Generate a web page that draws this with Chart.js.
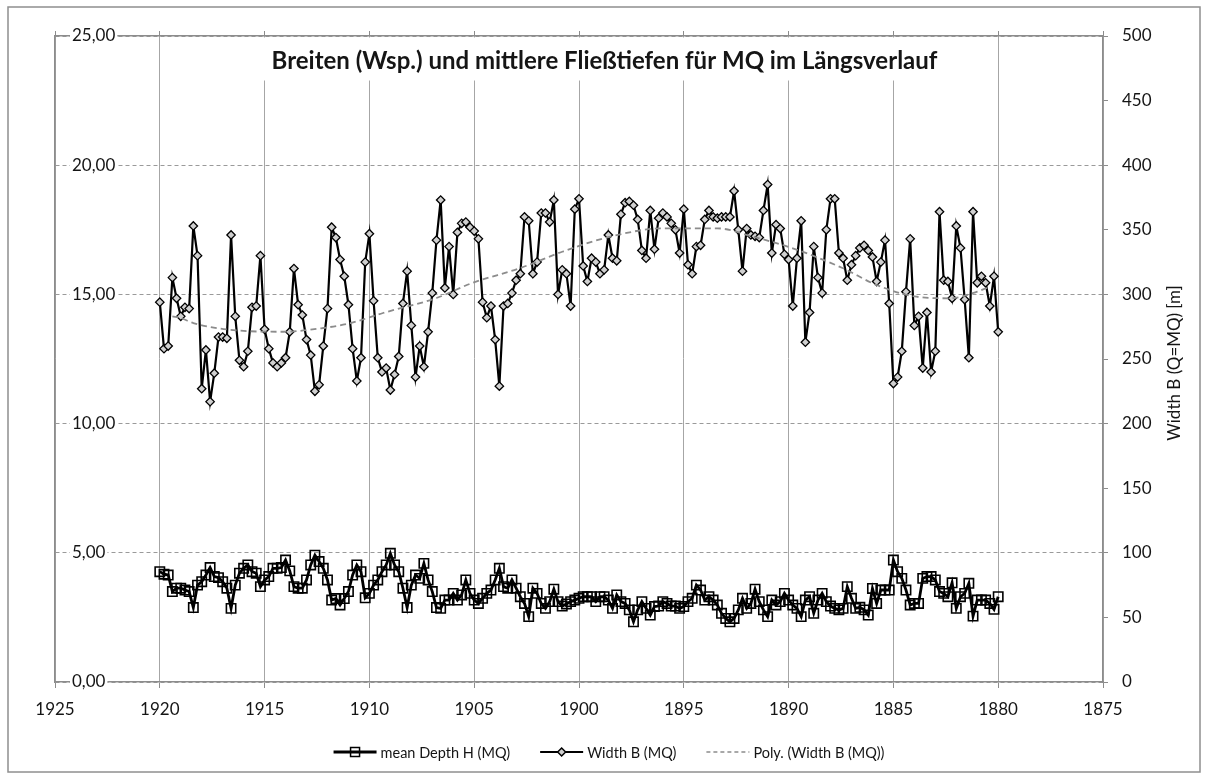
<!DOCTYPE html>
<html>
<head>
<meta charset="utf-8">
<script src="https://cdn.jsdelivr.net/npm/chart.js@4.4.1/dist/chart.umd.min.js"></script>
<style>
  html, body { margin: 0; padding: 0; background: #fff; }
  canvas { display: block; }
</style>
</head>
<body>
<canvas id="c" width="1205" height="775"></canvas>
<script>
// ---------- DATA ----------
const chartTitle = "Breiten (Wsp.) und mittlere Fließtiefen für MQ im Längsverlauf";
const rightAxisTitle = "Width B (Q=MQ) [m]";
const depthLabel = "mean Depth H (MQ)";
const widthLabel = "Width B (MQ)";
const trendLabel = "Poly. (Width B (MQ))";

const xTicks = [1925, 1920, 1915, 1910, 1905, 1900, 1895, 1890, 1885, 1880, 1875];
const leftTicks = [0, 5, 10, 15, 20, 25];
const rightTicks = [0, 50, 100, 150, 200, 250, 300, 350, 400, 450, 500];

const stations = [
  1920,1919.8,1919.6,1919.4,1919.2,1919,1918.8,1918.6,1918.4,1918.2,
  1918,1917.8,1917.6,1917.4,1917.2,1917,1916.8,1916.6,1916.4,1916.2,
  1916,1915.8,1915.6,1915.4,1915.2,1915,1914.8,1914.6,1914.4,1914.2,
  1914,1913.8,1913.6,1913.4,1913.2,1913,1912.8,1912.6,1912.4,1912.2,
  1912,1911.8,1911.6,1911.4,1911.2,1911,1910.8,1910.6,1910.4,1910.2,
  1910,1909.8,1909.6,1909.4,1909.2,1909,1908.8,1908.6,1908.4,1908.2,
  1908,1907.8,1907.6,1907.4,1907.2,1907,1906.8,1906.6,1906.4,1906.2,
  1906,1905.8,1905.6,1905.4,1905.2,1905,1904.8,1904.6,1904.4,1904.2,
  1904,1903.8,1903.6,1903.4,1903.2,1903,1902.8,1902.6,1902.4,1902.2,
  1902,1901.8,1901.6,1901.4,1901.2,1901,1900.8,1900.6,1900.4,1900.2,
  1900,1899.8,1899.6,1899.4,1899.2,1899,1898.8,1898.6,1898.4,1898.2,
  1898,1897.8,1897.6,1897.4,1897.2,1897,1896.8,1896.6,1896.4,1896.2,
  1896,1895.8,1895.6,1895.4,1895.2,1895,1894.8,1894.6,1894.4,1894.2,
  1894,1893.8,1893.6,1893.4,1893.2,1893,1892.8,1892.6,1892.4,1892.2,
  1892,1891.8,1891.6,1891.4,1891.2,1891,1890.8,1890.6,1890.4,1890.2,
  1890,1889.8,1889.6,1889.4,1889.2,1889,1888.8,1888.6,1888.4,1888.2,
  1888,1887.8,1887.6,1887.4,1887.2,1887,1886.8,1886.6,1886.4,1886.2,
  1886,1885.8,1885.6,1885.4,1885.2,1885,1884.8,1884.6,1884.4,1884.2,
  1884,1883.8,1883.6,1883.4,1883.2,1883,1882.8,1882.6,1882.4,1882.2,
  1882,1881.8,1881.6,1881.4,1881.2,1881,1880.8,1880.6,1880.4,1880.2,
  1880
];

const widthB = [
  294,258,260,313,297,283,290,289,353,330,
  227,257,217,239,267,267,266,346,283,249,
  244,256,290,291,330,273,258,247,244,247,
  251,271,320,292,284,265,253,225,230,260,
  289,352,344,327,314,292,258,233,251,325,
  347,295,251,240,243,226,238,252,293,318,
  276,236,260,244,271,301,342,373,305,337,
  300,348,355,356,352,349,343,294,282,291,
  265,229,291,293,301,311,316,360,357,316,
  325,363,363,356,373,300,319,316,291,366,
  374,322,310,328,325,316,319,346,328,326,
  362,371,372,369,358,334,328,365,335,359,
  363,360,355,350,332,366,323,316,337,338,
  358,365,360,359,360,360,360,380,350,318,
  351,346,345,344,365,385,332,354,351,331,
  327,291,328,357,263,286,337,313,301,350,
  374,374,332,328,311,323,330,336,338,334,
  329,310,325,342,293,231,236,256,302,343,
  276,283,243,286,240,256,364,311,310,297,
  353,336,296,251,364,309,314,309,291,314,
  271
];

const depthH = [
  4.27,4.17,4.14,3.50,3.63,3.63,3.56,3.50,2.88,3.75,
  3.88,4.14,4.43,4.08,4.04,3.88,3.63,2.85,3.75,4.21,
  4.40,4.53,4.27,4.21,3.69,3.95,4.08,4.40,4.40,4.43,
  4.72,4.30,3.69,3.63,3.63,3.95,4.53,4.91,4.66,4.40,
  3.95,3.17,3.23,2.98,3.23,3.50,4.14,4.53,4.27,3.26,
  3.43,3.75,3.95,4.27,4.53,4.98,4.53,4.27,3.63,2.88,
  3.75,4.14,4.01,4.59,3.95,3.50,2.88,2.85,3.17,3.17,
  3.43,3.17,3.37,3.95,3.43,3.17,3.04,3.24,3.43,3.56,
  3.95,4.40,3.69,3.63,3.95,3.63,3.30,3.04,2.53,3.63,
  3.43,3.04,2.85,3.11,3.59,3.11,2.94,3.02,3.11,3.17,
  3.24,3.30,3.30,3.30,3.11,3.30,3.30,3.17,2.85,3.37,
  3.11,3.04,2.79,2.33,2.79,3.11,2.85,2.59,2.92,2.94,
  3.11,3.04,2.94,2.94,2.85,2.92,3.11,3.24,3.75,3.56,
  3.17,3.30,3.17,2.98,2.66,2.46,2.33,2.46,2.79,3.24,
  2.85,3.04,3.59,3.11,2.79,2.53,3.17,2.98,3.11,3.43,
  3.17,2.98,2.85,2.53,3.17,3.30,2.66,3.17,3.43,3.11,
  2.94,2.85,2.79,2.85,3.69,3.24,2.85,2.89,2.79,2.59,
  3.62,3.04,3.56,3.56,3.56,4.72,4.27,4.01,3.56,2.98,
  3.04,3.04,4.01,4.08,4.08,3.95,3.50,3.43,3.30,3.84,
  2.85,3.30,3.43,3.82,2.55,3.17,3.17,3.17,3.04,2.81,
  3.30
];

// polynomial trend of Width B
const trendX = [1919.4,1919.0,1918.4,1916.5,1914.1,1912.2,1910.9,1909.35,1906.8,1905.1,1902.8,1900.8,1898.5,1896.0,1893.4,1891.7,1889.8,1887.4,1885.8,1883.9,1882.3,1881.0,1880.4];
const trendY = [283,281.7,277.8,272.4,271.1,274,277.8,285.6,297.2,308.8,320.4,333,344.7,351.1,351.1,344.7,335.7,320.2,307.3,298.2,297,302.1,306];

// ---------- BUILD ----------
const FONT = "Lato, 'Open Sans', 'DejaVu Sans', sans-serif";
const TXT = '#151515';
const GRID = '#a6a6a6';

const depthPts = stations.map((s, i) => ({x: s, y: depthH[i]}));
const widthPts = stations.map((s, i) => ({x: s, y: widthB[i]}));
const trendPts = trendX.map((s, i) => ({x: s, y: trendY[i]}));

function drawMarker(ctx, kind, x, y) {
  ctx.save();
  ctx.lineWidth = 1.5;
  ctx.strokeStyle = '#000';
  if (kind === 'rect') {
    ctx.beginPath(); ctx.rect(x - 4.5, y - 4.5, 9, 9); ctx.stroke();
  } else if (kind === 'diamond') {
    ctx.fillStyle = '#d0d0d0';
    ctx.beginPath();
    ctx.moveTo(x, y - 4); ctx.lineTo(x + 4, y); ctx.lineTo(x, y + 4); ctx.lineTo(x - 4, y); ctx.closePath();
    ctx.fill(); ctx.stroke();
  }
  ctx.restore();
}

const decor = {
  id: 'decor',
  beforeDraw(chart) {
    const ctx = chart.ctx;
    ctx.save();
    ctx.fillStyle = '#fff';
    ctx.fillRect(0, 0, chart.width, chart.height);
    ctx.strokeStyle = '#8f8f8f';
    ctx.lineWidth = 1.5;
    ctx.strokeRect(8, 7, 1192, 765);
    ctx.restore();
  },
  beforeDatasetsDraw(chart) {
    const ctx = chart.ctx;
    const ca = chart.chartArea;
    ctx.save();
    ctx.font = "bold 24px " + FONT;
    const tw = ctx.measureText(chartTitle).width;
    const cx = chart.width / 2 + 2;
    ctx.fillStyle = '#fff';
    ctx.fillRect(cx - tw / 2 - 14, ca.top + 1.5, tw + 28, 43);
    ctx.fillStyle = TXT;
    ctx.textAlign = 'center';
    ctx.textBaseline = 'alphabetic';
    ctx.fillText(chartTitle, cx, ca.top + 33);
    ctx.restore();
  },
  afterDraw(chart) {
    const ctx = chart.ctx;
    const ca = chart.chartArea;
    // right axis title (reads bottom to top)
    ctx.save();
    ctx.font = "17px " + FONT;
    ctx.fillStyle = TXT;
    ctx.translate(ca.right + 72, (ca.top + ca.bottom) / 2 + 4);
    ctx.rotate(-Math.PI / 2);
    ctx.textAlign = 'center';
    ctx.textBaseline = 'middle';
    ctx.fillText(rightAxisTitle, 0, 0);
    ctx.restore();

    // legend
    ctx.save();
    ctx.font = "14.5px " + FONT;
    const items = [
      {label: depthLabel, kind: 'depth'},
      {label: widthLabel, kind: 'width'},
      {label: trendLabel, kind: 'trend'}
    ];
    const lineLen = 43, gap = 4, spacing = 30;
    let total = 0;
    items.forEach(it => { it.w = ctx.measureText(it.label).width; total += lineLen + gap + it.w; });
    total += spacing * (items.length - 1);
    let x = 609 - total / 2;
    const y = 752;
    items.forEach(it => {
      ctx.save();
      if (it.kind === 'trend') {
        ctx.strokeStyle = '#8c8c8c'; ctx.lineWidth = 1.6; ctx.setLineDash([4, 3]);
      } else {
        ctx.strokeStyle = '#000'; ctx.lineWidth = it.kind === 'depth' ? 2.8 : 2.2;
      }
      ctx.beginPath(); ctx.moveTo(x, y); ctx.lineTo(x + lineLen, y); ctx.stroke();
      ctx.restore();
      if (it.kind === 'depth') drawMarker(ctx, 'rect', x + lineLen / 2, y);
      if (it.kind === 'width') drawMarker(ctx, 'diamond', x + lineLen / 2, y);
      ctx.fillStyle = TXT;
      ctx.textAlign = 'left';
      ctx.textBaseline = 'middle';
      ctx.fillText(it.label, x + lineLen + gap, y + 1);
      x += lineLen + gap + it.w + spacing;
    });
    ctx.restore();
  }
};

const cfg = {
  type: 'line',
  data: {
    datasets: [
      {
        label: trendLabel,
        data: trendPts,
        yAxisID: 'y2',
        borderColor: '#8c8c8c',
        borderWidth: 1.8,
        borderDash: [6, 4],
        pointRadius: 0,
        cubicInterpolationMode: 'monotone',
        order: 0
      },
      {
        label: widthLabel,
        data: widthPts,
        yAxisID: 'y2',
        borderColor: '#000',
        borderWidth: 2.2,
        pointStyle: 'rectRot',
        pointRadius: 4.2,
        pointBorderWidth: 1.3,
        pointBorderColor: '#000',
        pointBackgroundColor: '#d0d0d0',
        tension: 0,
        order: 1
      },
      {
        label: depthLabel,
        data: depthPts,
        yAxisID: 'y',
        borderColor: '#000',
        borderWidth: 2.8,
        pointStyle: 'rect',
        pointRadius: 6.6,
        pointBorderWidth: 1.6,
        pointBorderColor: '#000',
        pointBackgroundColor: 'rgba(255,255,255,0)',
        tension: 0,
        order: 2
      }
    ]
  },
  options: {
    responsive: false,
    animation: false,
    devicePixelRatio: 1,
    layout: { padding: 0 },
    plugins: { legend: { display: false }, title: { display: false }, tooltip: { enabled: false } },
    scales: {
      x: {
        type: 'linear', position: 'bottom', reverse: true, min: 1875, max: 1925,
        afterBuildTicks: s => { s.ticks = xTicks.map(v => ({value: v})); },
        afterFit: s => { s.height = 93; },
        grid: { color: GRID, lineWidth: 1, drawTicks: true, tickLength: 6, tickColor: '#8c8c8c' },
        border: { color: '#8c8c8c', width: 1.5 },
        ticks: { font: { family: FONT, size: 17 }, color: TXT, padding: 11, maxRotation: 0,
                 callback: v => String(v) }
      },
      x2: {
        type: 'linear', position: 'top', reverse: true, min: 1875, max: 1925,
        afterBuildTicks: s => { s.ticks = xTicks.map(v => ({value: v})); },
        afterFit: s => { s.height = 36; },
        grid: { drawOnChartArea: false, drawTicks: true, tickLength: 5, color: '#8c8c8c' },
        border: { color: '#8c8c8c', width: 1.5 },
        ticks: { display: false }
      },
      y: {
        type: 'linear', position: 'left', min: 0, max: 25,
        afterBuildTicks: s => { s.ticks = leftTicks.map(v => ({value: v})); },
        afterFit: s => { s.width = 55; },
        grid: { color: '#9a9a9a', lineWidth: 1, drawTicks: false },
        border: { color: '#8c8c8c', width: 1.5, dash: [4, 3] },
        ticks: { mirror: true, padding: 17, font: { family: FONT, size: 17 }, color: TXT,
                 showLabelBackdrop: true, backdropColor: '#fff', backdropPadding: { x: 2, y: 0 },
                 callback: v => v.toFixed(2).replace('.', ',') }
      },
      y2: {
        type: 'linear', position: 'right', min: 0, max: 500,
        afterBuildTicks: s => { s.ticks = rightTicks.map(v => ({value: v})); },
        afterFit: s => { s.width = 102; },
        grid: { drawOnChartArea: false, drawTicks: true, tickLength: 5, color: '#8c8c8c' },
        border: { color: '#8c8c8c', width: 1.5 },
        ticks: { padding: 14, font: { family: FONT, size: 17 }, color: TXT, callback: v => String(v) }
      }
    }
  },
  plugins: [decor]
};

new Chart(document.getElementById('c'), cfg);
</script>
</body>
</html>
